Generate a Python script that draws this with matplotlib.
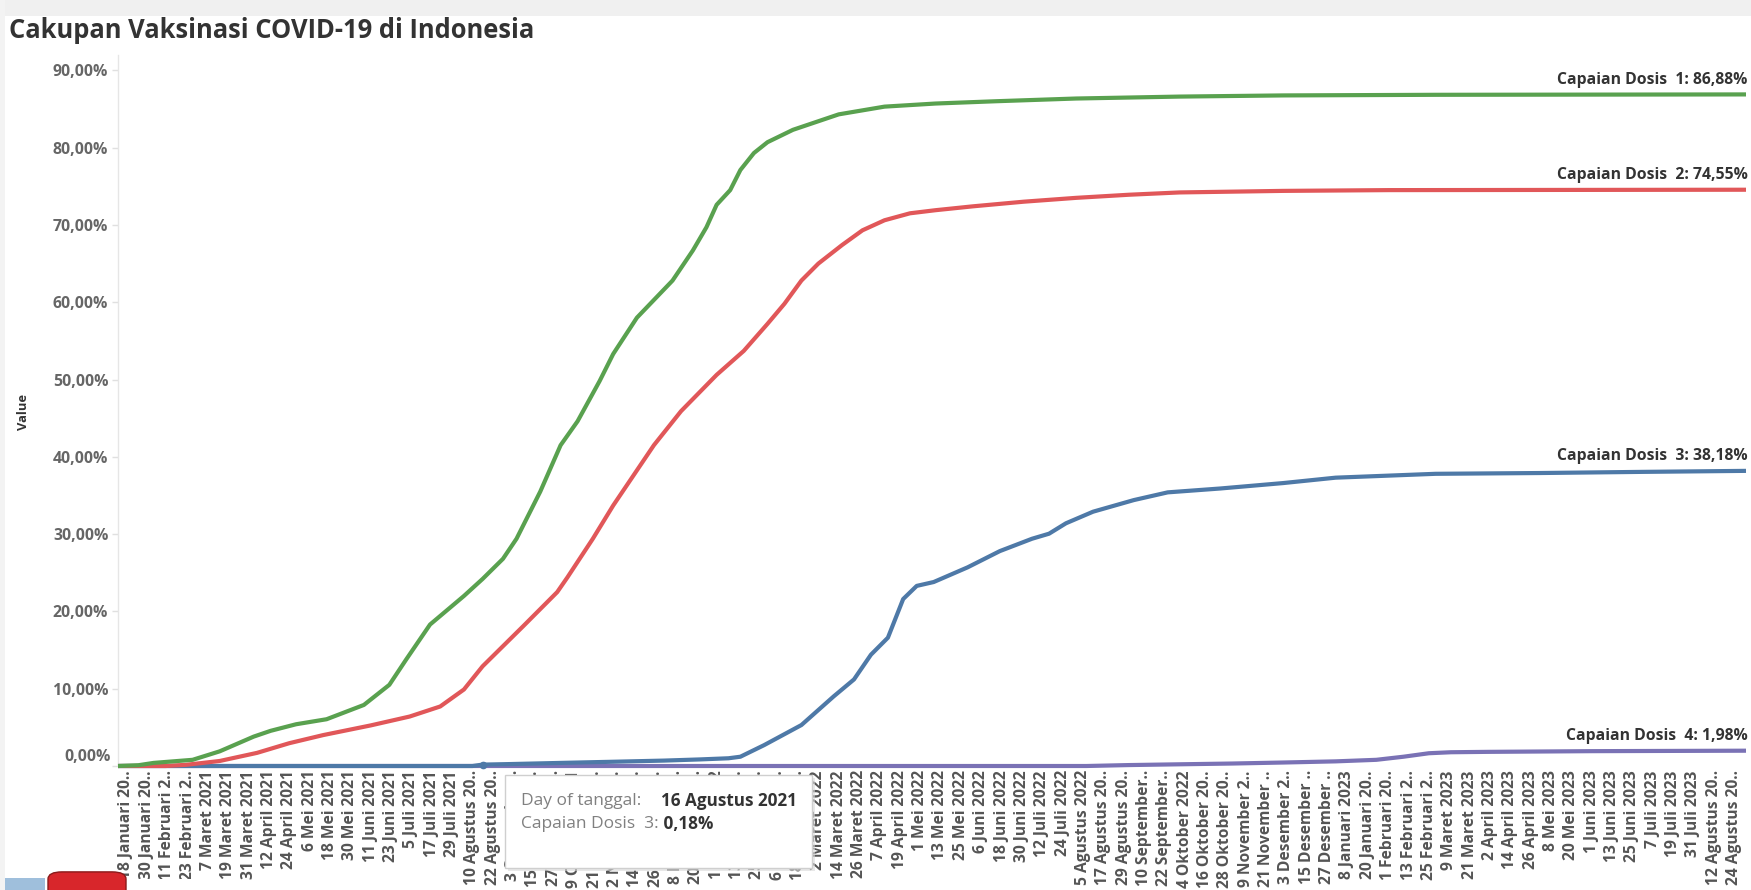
import matplotlib
matplotlib.use("Agg")
import matplotlib.pyplot as plt
import matplotlib.dates as mdates
from matplotlib.patches import Rectangle, FancyBboxPatch
from matplotlib.font_manager import FontProperties
from matplotlib.ticker import FixedLocator, FuncFormatter
import pandas as pd

# ---------------- data ----------------
title = "Cakupan Vaksinasi COVID-19 di Indonesia"
y_axis_title = "Value"
series_names = ["Capaian Dosis  1", "Capaian Dosis  2", "Capaian Dosis  3", "Capaian Dosis  4"]
series_colors = ["#59A14F", "#E15759", "#4E79A7", "#7A72B5"]
month_names = ["Januari", "Februari", "Maret", "April", "Mei", "Juni", "Juli",
               "Agustus", "September", "Oktober", "November", "Desember"]

dosis1_dates = ["2021-01-13", "2021-01-25", "2021-02-03", "2021-02-26", "2021-03-14", "2021-04-03",
                "2021-04-13", "2021-04-28", "2021-05-16", "2021-06-07", "2021-06-22", "2021-07-02",
                "2021-07-16", "2021-08-05", "2021-08-16", "2021-08-28", "2021-09-05", "2021-09-19",
                "2021-10-01", "2021-10-11", "2021-10-24", "2021-11-01", "2021-11-15", "2021-12-06",
                "2021-12-18", "2021-12-26", "2022-01-01", "2022-01-09", "2022-01-15", "2022-01-23",
                "2022-01-31", "2022-02-15", "2022-03-14", "2022-04-10", "2022-05-10", "2022-06-15",
                "2022-08-01", "2022-10-01", "2022-12-01", "2023-03-01", "2023-08-31"]
dosis1_values = [0.0, 0.1, 0.4, 0.8, 1.9, 3.8,
                 4.55, 5.4, 6.05, 7.9, 10.5, 13.8,
                 18.3, 22.0, 24.2, 26.8, 29.4, 35.5,
                 41.5, 44.6, 49.8, 53.3, 58.0, 62.8,
                 66.7, 69.7, 72.6, 74.5, 77.1, 79.3,
                 80.7, 82.3, 84.3, 85.3, 85.7, 86.0,
                 86.35, 86.6, 86.75, 86.83, 86.88]

dosis2_dates = ["2021-01-13", "2021-02-10", "2021-02-22", "2021-03-14", "2021-04-05", "2021-04-24",
                "2021-05-14", "2021-06-11", "2021-07-04", "2021-07-22", "2021-08-05", "2021-08-16",
                "2021-09-09", "2021-09-29", "2021-10-05", "2021-10-20", "2021-11-01", "2021-11-13",
                "2021-11-25", "2021-12-11", "2022-01-01", "2022-01-17", "2022-01-31", "2022-02-10",
                "2022-02-20", "2022-03-02", "2022-03-16", "2022-03-28", "2022-04-10", "2022-04-25",
                "2022-05-10", "2022-06-01", "2022-07-01", "2022-08-01", "2022-09-01", "2022-10-01",
                "2022-12-01", "2023-02-01", "2023-08-31"]
dosis2_values = [0.0, 0.0, 0.15, 0.65, 1.7, 2.95,
                 4.0, 5.25, 6.4, 7.7, 9.9, 12.9,
                 18.1, 22.5, 24.4, 29.4, 33.7, 37.6,
                 41.5, 45.9, 50.6, 53.7, 57.2, 59.8,
                 62.8, 65.0, 67.4, 69.3, 70.6, 71.5,
                 71.9, 72.4, 73.0, 73.5, 73.9, 74.2,
                 74.4, 74.5, 74.55]

dosis3_dates = ["2021-01-13", "2021-08-10", "2021-08-16", "2021-09-01", "2021-10-01", "2021-11-01",
                "2021-12-01", "2021-12-22", "2022-01-08", "2022-01-15", "2022-01-29", "2022-02-20",
                "2022-03-11", "2022-03-23", "2022-04-02", "2022-04-12", "2022-04-21", "2022-04-29",
                "2022-05-09", "2022-05-29", "2022-06-17", "2022-07-06", "2022-07-16", "2022-07-26",
                "2022-08-11", "2022-09-04", "2022-09-24", "2022-10-25", "2022-12-01", "2023-01-01",
                "2023-03-01", "2023-05-01", "2023-07-01", "2023-08-31"]
dosis3_values = [0.0, 0.0, 0.18, 0.25, 0.4, 0.55,
                 0.7, 0.85, 1.0, 1.2, 2.7, 5.3,
                 9.0, 11.2, 14.4, 16.6, 21.6, 23.3,
                 23.8, 25.7, 27.8, 29.4, 30.05, 31.4,
                 32.9, 34.4, 35.4, 35.9, 36.6, 37.3,
                 37.8, 37.9, 38.05, 38.18]

dosis4_dates = ["2021-01-13", "2022-08-07", "2022-09-01", "2022-10-01", "2022-11-01", "2022-12-01",
                "2023-01-01", "2023-01-25", "2023-02-10", "2023-02-25", "2023-03-10", "2023-04-01",
                "2023-06-01", "2023-08-31"]
dosis4_values = [0.0, 0.0, 0.12, 0.22, 0.32, 0.45,
                 0.6, 0.8, 1.2, 1.65, 1.78, 1.83,
                 1.92, 1.98]

series_dates = [dosis1_dates, dosis2_dates, dosis3_dates, dosis4_dates]
series_values = [dosis1_values, dosis2_values, dosis3_values, dosis4_values]

y_ticks = [0, 10, 20, 30, 40, 50, 60, 70, 80, 90]
x_tick_start = "2021-01-18"
x_tick_step_days = 12
date_start = "2021-01-13"
date_end = "2023-08-31"

tooltip_date_label = "Day of tanggal:"
tooltip_date_value = "16 Agustus 2021"
tooltip_series_label = "Capaian Dosis  3:"
tooltip_series_value = "0,18%"
tooltip_point_date = "2021-08-16"
tooltip_point_value = 0.18

# ---------------- figure ----------------
W, H, DPI = 1751, 890, 100
FONT = ["Open Sans", "DejaVu Sans"]
plt.rcParams["font.family"] = FONT

fig = plt.figure(figsize=(W / DPI, H / DPI), dpi=DPI, facecolor="white")
renderer = fig.canvas.get_renderer()


def fx(px):
    return px / W


def fy(py):
    return 1 - py / H


def text_w(s, weight, size):
    prop = FontProperties(family=FONT, weight=weight, size=size)
    return renderer.get_text_width_height_descent(s, prop, ismath=False)[0]


def size_for(s, target_px, weight):
    return 10.0 * target_px / text_w(s, weight, 10.0)


TITLE_SIZE = size_for(title, 525, "bold")
XT_SIZE = size_for("4 Oktober 2022", 118, "bold")
YT_SIZE = size_for("50,00%", 55, "bold")
END_SIZE = size_for("Capaian Dosis  1: 86,88%", 190, "bold")
VAL_SIZE = size_for(y_axis_title, 36, "bold")
TT_SIZE = size_for(tooltip_date_label, 121, "normal")
TTB_SIZE = size_for(tooltip_date_value, 136, "bold")

AX_L, AX_R, AX_T, AX_B = 118, 1746, 55, 766
ax = fig.add_axes([fx(AX_L), fy(AX_B), fx(AX_R - AX_L), (AX_B - AX_T) / H])
ax.set_facecolor("white")

d0 = pd.Timestamp(date_start)
d1 = pd.Timestamp(date_end)
ax.set_xlim(mdates.date2num(d0), mdates.date2num(d1))
ax.set_ylim(0, (AX_B - AX_T) / 7.73)

zorders = [5, 4, 3, 2]
for name, dts, vals, col, z in zip(series_names, series_dates, series_values, series_colors, zorders):
    x = mdates.date2num(pd.to_datetime(dts))
    ax.plot(x, vals, color=col, lw=3.0, solid_capstyle="butt", solid_joinstyle="round",
            zorder=z, clip_on=False)
    label = f"{name}: {vals[-1]:.2f}%".replace(".", ",")
    ax.annotate(label, xy=(x[-1], vals[-1]), xytext=(1, 10.5), textcoords="offset points",
                ha="right", va="center", fontsize=END_SIZE, fontweight="bold", color="#333333",
                zorder=6, annotation_clip=False)

# hovered point marker
ax.plot(mdates.date2num(pd.Timestamp(tooltip_point_date)), tooltip_point_value, "o",
        color=series_colors[2], ms=4.5, zorder=6, clip_on=False)

# spines
for s in ["top", "right", "bottom"]:
    ax.spines[s].set_visible(False)
ax.spines["left"].set_color("#e6e6e6")
ax.spines["left"].set_linewidth(1.0)

# y ticks
ax.yaxis.set_major_locator(FixedLocator(y_ticks))
ax.yaxis.set_major_formatter(FuncFormatter(
    lambda v, p: "" if v == 0 else f"{v:.2f}%".replace(".", ",")))
ax.tick_params(axis="y", length=4, width=1, color="#e0e0e0", pad=3,
               labelsize=YT_SIZE, labelcolor="#666666")
for t in ax.get_yticklabels():
    t.set_fontweight("bold")
zero_lbl = f"{0:.2f}%".replace(".", ",")
ax.annotate(zero_lbl, xy=(0, 0), xycoords=("axes fraction", "data"),
            xytext=(-7 * 72 / DPI, 9 * 72 / DPI), textcoords="offset points",
            ha="right", va="center", fontsize=YT_SIZE, fontweight="bold", color="#666666",
            annotation_clip=False)

# x ticks: every 12 days, Indonesian labels, truncated like Tableau
tick_dates = pd.date_range(x_tick_start, date_end, freq=f"{x_tick_step_days}D")
MAX_CHARS = 14
max_w = text_w("4 Oktober 2022", "bold", XT_SIZE) + 1


def fit(s):
    if len(s) <= MAX_CHARS:
        return s
    t = s[:MAX_CHARS - 1]
    while t and text_w(t + "..", "bold", XT_SIZE) > max_w:
        t = t[:-1]
    return t + ".."


tick_labels = [fit(f"{d.day} {month_names[d.month - 1]} {d.year}") for d in tick_dates]
ax.set_xticks(mdates.date2num(tick_dates))
ax.set_xticklabels(tick_labels, rotation=90, fontsize=XT_SIZE, fontweight="bold", color="#555555")
ax.tick_params(axis="x", length=0, pad=3)

# titles
fig.text(fx(9), fy(30), title, fontsize=TITLE_SIZE, fontweight="bold", color="#333333",
         ha="left", va="center")
fig.text(fx(23), fy(412), y_axis_title, rotation=90, fontsize=VAL_SIZE, fontweight="bold",
         color="#333333", ha="center", va="center")

# window frame bits
fig.add_artist(Rectangle((0, fy(16)), 1, 16 / H, transform=fig.transFigure,
                         facecolor="#f0f0f0", edgecolor="none", zorder=20))
fig.add_artist(Rectangle((0, 0), fx(5), 1, transform=fig.transFigure,
                         facecolor="#f3f3f3", edgecolor="none", zorder=20))

# tooltip box
TT_L, TT_R, TT_T, TT_B = 505, 812, 775, 868
fig.add_artist(Rectangle((fx(TT_L + 3), fy(TT_B + 3)), fx(TT_R - TT_L), (TT_B - TT_T) / H,
                         transform=fig.transFigure, facecolor="#d9d9d9", edgecolor="none",
                         alpha=0.6, zorder=9))
fig.add_artist(Rectangle((fx(TT_L), fy(TT_B)), fx(TT_R - TT_L), (TT_B - TT_T) / H,
                         transform=fig.transFigure, facecolor="white", edgecolor="#cfcfcf",
                         lw=1, zorder=10))
fig.text(fx(521), fy(801), tooltip_date_label, fontsize=TT_SIZE, color="#808080",
         ha="left", va="center", zorder=11)
fig.text(fx(661), fy(801), tooltip_date_value, fontsize=TTB_SIZE, color="#333333",
         fontweight="bold", ha="left", va="center", zorder=11)
t2 = fig.text(fx(521), fy(824), tooltip_series_label, fontsize=TT_SIZE, color="#808080",
              ha="left", va="center", zorder=11)
fig.add_artist(matplotlib.text.Annotation(
    " " + tooltip_series_value, xy=(1, 0.5), xycoords=t2, xytext=(0, 0), textcoords="offset points",
    fontsize=TTB_SIZE, color="#333333", fontweight="bold", ha="left", va="center", zorder=11))

# taskbar artifact at bottom-left
fig.add_artist(Rectangle((fx(118), 0), fx(82), 11 / H, transform=fig.transFigure,
                         facecolor="white", edgecolor="none", zorder=12))
fig.add_artist(Rectangle((0, 0), fx(45), 12 / H, transform=fig.transFigure,
                         facecolor="#9fbfdc", edgecolor="none", zorder=12))
fig.add_artist(FancyBboxPatch((fx(48), -0.01), fx(78), 27 / H, boxstyle="round,pad=0,rounding_size=0.008",
                              transform=fig.transFigure, facecolor="#d8262b", edgecolor="#8a1a1a",
                              lw=1, zorder=13))

fig.savefig("out.png", dpi=DPI, facecolor="white")
